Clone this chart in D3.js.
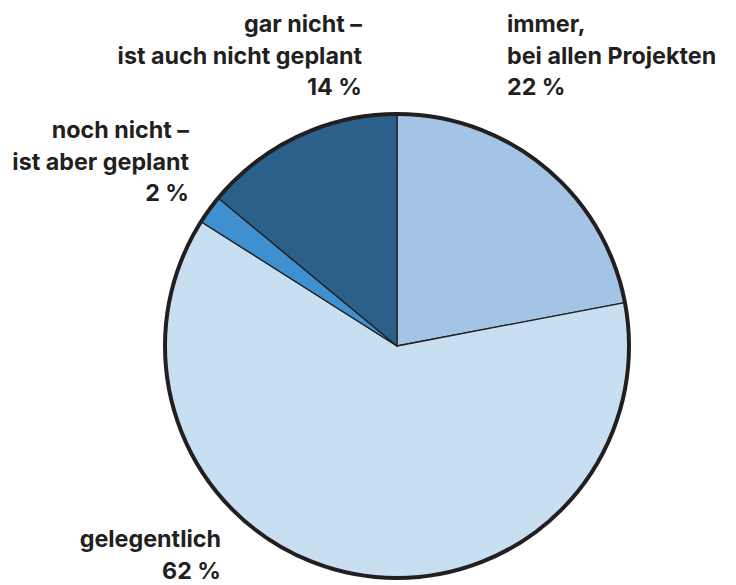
<!DOCTYPE html>
<html>
<head>
<meta charset="utf-8">
<script src="https://cdn.jsdelivr.net/npm/d3@7"></script>
<style>
  body { margin: 0; background: #fff; }
  text { font-family: Inter, "Noto Sans", sans-serif; font-weight: 700; fill: #231f20; }
</style>
</head>
<body>
<svg id="chart"></svg>
<script>
// data, clockwise from 12 o'clock
const categories = ["immer", "gelegentlich", "noch nicht", "gar nicht"]
const values = [22, 62, 2, 14]
const labelLines = [
    ["immer,", "bei allen Projekten", "22 %"],
    ["gelegentlich", "62 %"],
    ["noch nicht –", "ist aber geplant", "2 %"],
    ["gar nicht –", "ist auch nicht geplant", "14 %"]
]
const colors = ["#a4c4e5", "#c8dff2", "#3e90d0", "#2a6089"]

const width = 736
const height = 585
const cx = 397
const cy = 346
const radius = 232

const svg = d3.select("#chart")
    .attr("width", width)
    .attr("height", height)

const pie = d3.pie().sort(null).value(d => d)
const arc = d3.arc().innerRadius(0).outerRadius(radius)
const arcs = pie(values)

const g = svg.append("g").attr("transform", `translate(${cx},${cy})`)

// slices with thin dark separators
g.selectAll("path.slice")
    .data(arcs)
    .enter()
    .append("path")
        .attr("class", "slice")
        .attr("d", arc)
        .attr("fill", (d, i) => colors[i])
        .attr("stroke", "#231f20")
        .attr("stroke-width", 1.3)
        .attr("stroke-linejoin", "round")

// thick outline
g.append("circle")
    .attr("r", radius)
    .attr("fill", "none")
    .attr("stroke", "#231f20")
    .attr("stroke-width", 4)

// label anchor positions (x, first baseline, alignment)
const labelPos = [
    {x: 507, y: 32, anchor: "start"},
    {x: 221, y: 547, anchor: "end"},
    {x: 189, y: 138, anchor: "end"},
    {x: 362, y: 32, anchor: "end"}
]
const lineHeight = 31.5

svg.append("g")
    .selectAll("text")
    .data(arcs)
    .enter()
    .append("text")
        .attr("x", (d, i) => labelPos[i].x)
        .attr("y", (d, i) => labelPos[i].y)
        .attr("text-anchor", (d, i) => labelPos[i].anchor)
        .attr("font-size", 23.3)
        .each(function(d, i) {
            d3.select(this).selectAll("tspan")
                .data(labelLines[i])
                .enter()
                .append("tspan")
                    .attr("x", labelPos[i].x)
                    .attr("dy", (t, j) => j === 0 ? 0 : lineHeight)
                    .text(t => t)
        })
</script>
</body>
</html>
